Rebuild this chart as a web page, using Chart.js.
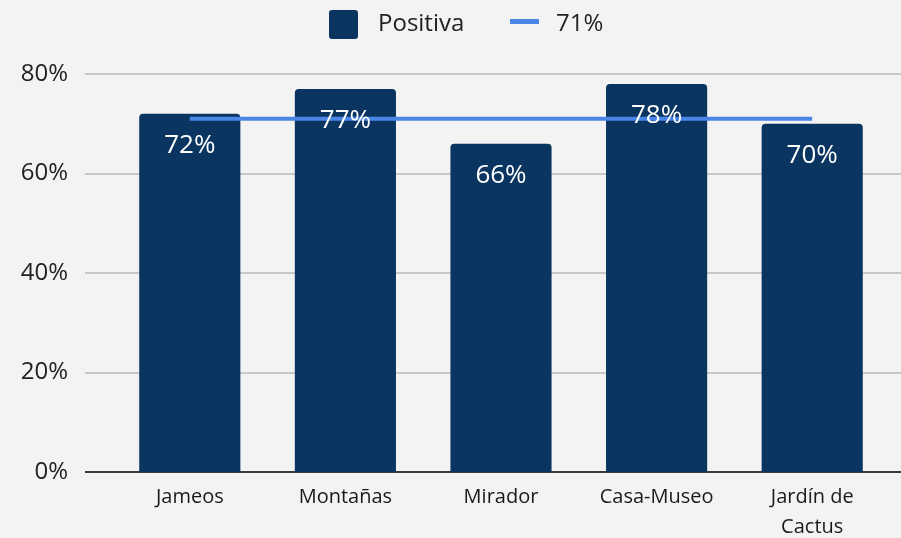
<!DOCTYPE html>
<html>
<head>
<meta charset="utf-8">
<script src="https://cdn.jsdelivr.net/npm/chart.js@4"></script>
<style>
  html, body { margin: 0; padding: 0; background: #f3f3f3; }
  #wrap { width: 901px; height: 538px; }
</style>
</head>
<body>
<div id="wrap"><canvas id="myChart"></canvas></div>
<script>
const categories = ['Jameos', 'Montañas', 'Mirador', 'Casa-Museo', ['Jardín de', 'Cactus']];
const positiva = [72, 77, 66, 78, 70];
const promedio = [71, 71, 71, 71, 71];
const yTicks = [0, 20, 40, 60, 80];

const barColor = '#0a3561';
const lineColor = '#4a86e8';

// grid lines across the whole width, like the original
const gridPlugin = {
    id: 'fullGrid',
    beforeDatasetsDraw(chart) {
        const ctx = chart.ctx;
        const y = chart.scales.y;
        ctx.save();
        yTicks.forEach(v => {
            const py = Math.round(y.getPixelForValue(v));
            ctx.beginPath();
            ctx.lineWidth = 2;
            ctx.strokeStyle = v === 0 ? '#3a3a3a' : '#c8c8c8';
            ctx.moveTo(85, py);
            ctx.lineTo(901, py);
            ctx.stroke();
        });
        ctx.restore();
    }
};

// white % labels inside the bars
const labelPlugin = {
    id: 'barLabels',
    afterDatasetsDraw(chart) {
        const ctx = chart.ctx;
        const meta = chart.getDatasetMeta(1);
        ctx.save();
        ctx.fillStyle = '#ffffff';
        ctx.font = '26px "Open Sans"';
        ctx.textAlign = 'center';
        ctx.textBaseline = 'middle';
        meta.data.forEach((bar, i) => {
            ctx.fillText(positiva[i] + '%', bar.x, bar.y + 32);
        });
        ctx.restore();
    }
};

// legend at the top
const legendPlugin = {
    id: 'topLegend',
    afterDraw(chart) {
        const ctx = chart.ctx;
        const ds = chart.data.datasets;
        ctx.save();
        ctx.fillStyle = barColor;
        ctx.beginPath();
        ctx.roundRect(329, 10, 29, 29, 3);
        ctx.fill();
        ctx.fillStyle = lineColor;
        ctx.fillRect(510, 19, 29, 5);
        ctx.fillStyle = '#222222';
        ctx.font = '24px "Open Sans"';
        ctx.textBaseline = 'middle';
        ctx.fillText(ds[1].label, 378, 24);
        ctx.fillText(ds[0].label, 556, 24);
        ctx.restore();
    }
};

const ctx = document.getElementById('myChart').getContext('2d');
const myChart = new Chart(ctx, {
    type: 'bar',
    data: {
        labels: categories,
        datasets: [{
            type: 'line',
            label: '71%',
            data: promedio,
            borderColor: lineColor,
            backgroundColor: lineColor,
            borderWidth: 4,
            pointRadius: 0,
            order: 0
        }, {
            label: 'Positiva',
            data: positiva,
            backgroundColor: barColor,
            borderRadius: 4,
            borderSkipped: 'bottom',
            barPercentage: 0.65,
            categoryPercentage: 1,
            order: 1
        }]
    },
    options: {
        responsive: true,
        maintainAspectRatio: false,
        animation: false,
        layout: { padding: { top: 74, right: 11, left: 0, bottom: 0 } },
        plugins: {
            legend: { display: false },
            tooltip: { enabled: false }
        },
        scales: {
            x: {
                grid: { display: false, drawTicks: false },
                border: { display: false },
                ticks: {
                    padding: 10,
                    color: '#1a1a1a',
                    font: { family: 'Open Sans', size: 20, lineHeight: 1.5 },
                    maxRotation: 0
                },
                afterFit(scale) { scale.height = 66; }
            },
            y: {
                min: 0,
                max: 80,
                grid: { display: false, drawTicks: false },
                border: { display: false },
                ticks: {
                    stepSize: 20,
                    padding: 44,
                    color: '#222222',
                    font: { family: 'Open Sans', size: 24 },
                    callback: v => v + '%'
                },
                afterFit(scale) { scale.width = 112; }
            }
        }
    },
    plugins: [gridPlugin, labelPlugin, legendPlugin]
});
</script>
</body>
</html>
